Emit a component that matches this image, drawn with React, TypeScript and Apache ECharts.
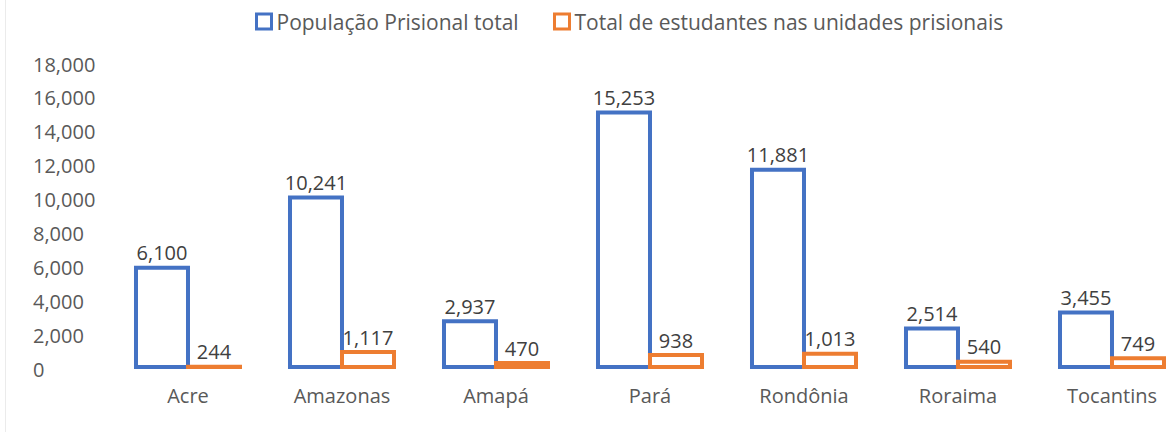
import React, { useEffect, useRef } from "react";
import * as echarts from "echarts";

const categories = ["Acre", "Amazonas", "Amapá", "Pará", "Rondônia", "Roraima", "Tocantins"];
const populacao = [6100, 10241, 2937, 15253, 11881, 2514, 3455];
const estudantes = [244, 1117, 470, 938, 1013, 540, 749];
const seriesNames = ["População Prisional total", "Total de estudantes nas unidades prisionais"];
const yTicks = { min: 0, max: 18000, interval: 2000 };

const FONT = "'Open Sans', 'Noto Sans', sans-serif";

export default function App() {
  const ref = useRef<HTMLDivElement>(null);
  useEffect(() => {
    if (!ref.current) return;
    const chart = echarts.init(ref.current, undefined, { renderer: "svg" });
    const fmt = (v: number) => v.toLocaleString("en-US");
    const legendText = { fontSize: 21, color: "#595959", fontFamily: FONT };
    const labelCfg = {
      show: true,
      position: "top",
      distance: 3,
      fontSize: 20,
      color: "#404040",
      fontFamily: FONT,
      formatter: (p: any) => fmt(p.value),
    };
    const legendBase = {
      top: 6,
      itemWidth: 15,
      itemHeight: 15,
      icon: "rect",
      itemStyle: { borderWidth: 3 },
      textStyle: legendText,
    };
    chart.setOption({
      animation: false,
      backgroundColor: "#ffffff",
      textStyle: { fontFamily: FONT },
      graphic: [
        {
          type: "line",
          shape: { x1: 5.5, y1: 0, x2: 5.5, y2: 432 },
          style: { stroke: "#ebebeb", lineWidth: 1 },
          silent: true,
        },
      ],
      legend: [
        { ...legendBase, data: [seriesNames[0]], left: 250 },
        { ...legendBase, data: [seriesNames[1]], left: 548 },
      ],
      grid: { left: 111, top: 64, bottom: 63, width: 1078, outerBoundsMode: "none", containLabel: false },
      xAxis: {
        type: "category",
        data: categories,
        axisLine: { show: false },
        axisTick: { show: false },
        axisLabel: { fontSize: 20, color: "#595959", fontFamily: FONT, margin: 16 },
      },
      yAxis: {
        type: "value",
        min: yTicks.min,
        max: yTicks.max,
        interval: yTicks.interval,
        splitLine: { show: false },
        axisLine: { show: false },
        axisTick: { show: false },
        axisLabel: {
          fontSize: 20,
          color: "#595959",
          fontFamily: FONT,
          align: "left",
          margin: 78,
          formatter: (v: number) => fmt(v),
        },
      },
      series: [
        {
          name: seriesNames[0],
          type: "bar",
          data: populacao,
          barWidth: 56,
          barGap: "-7.14%",
          itemStyle: { color: "#ffffff", borderColor: "#4472C4", borderWidth: 4 },
          label: labelCfg,
        },
        {
          name: seriesNames[1],
          type: "bar",
          data: estudantes,
          barWidth: 56,
          barGap: "-7.14%",
          itemStyle: { color: "#ffffff", borderColor: "#ED7D31", borderWidth: 4 },
          label: labelCfg,
        },
      ],
    });
    return () => chart.dispose();
  }, []);
  return (
    <div
      ref={ref}
      style={{ position: "fixed", left: 0, top: 0, width: 1172, height: 432, background: "#fff" }}
    />
  );
}
